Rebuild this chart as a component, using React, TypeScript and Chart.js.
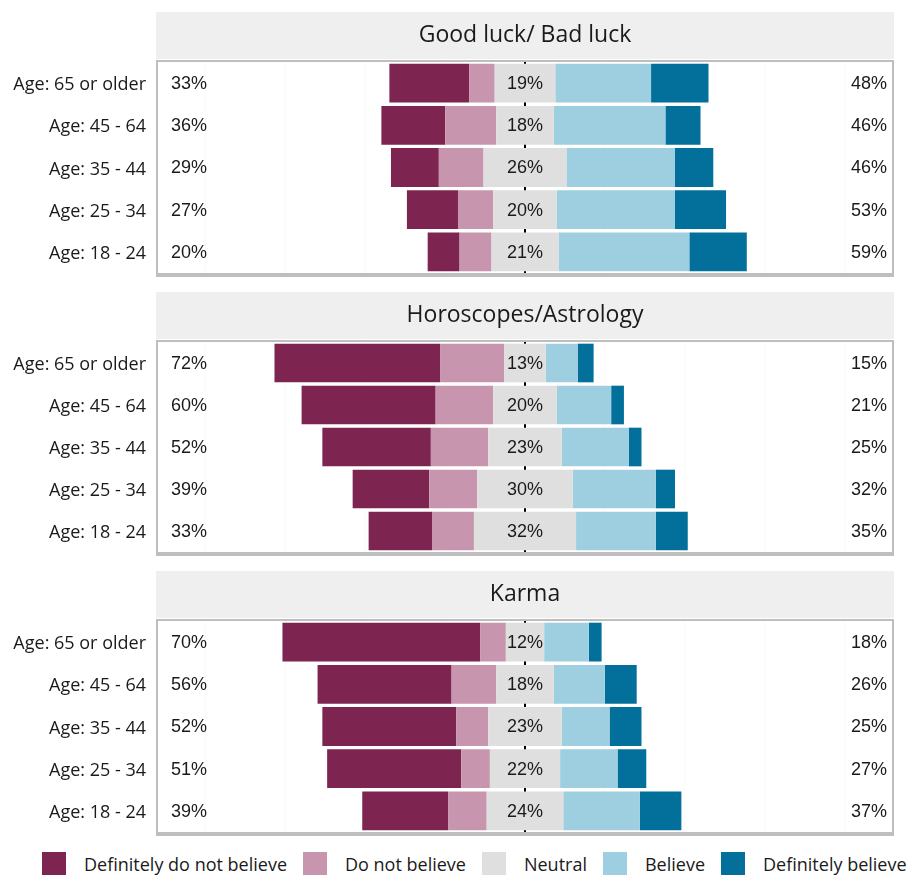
import React, { useEffect, useRef } from "react";
import { Chart, registerables } from "chart.js";

Chart.register(...registerables);

// ---------- data ----------
const ageGroups = ["Age: 65 or older", "Age: 45 - 64", "Age: 35 - 44", "Age: 25 - 34", "Age: 18 - 24"];
const responseLabels = ["Definitely do not believe", "Do not believe", "Neutral", "Believe", "Definitely believe"];
const responseColors = ["#7d2550", "#c895ae", "#dfdfdf", "#9ecfe0", "#03709b"];
const gridTicks = [-100, -75, -50, -25, 25, 50, 75, 100];

const luckDefNot = [25, 20, 15, 16, 10];
const luckNot = [8, 16, 14, 11, 10];
const luckNeutral = [19, 18, 26, 20, 21];
const luckBelieve = [30, 35, 34, 37, 41];
const luckDefBelieve = [18, 11, 12, 16, 18];

const horoDefNot = [52, 42, 34, 24, 20];
const horoNot = [20, 18, 18, 15, 13];
const horoNeutral = [13, 20, 23, 30, 32];
const horoBelieve = [10, 17, 21, 26, 25];
const horoDefBelieve = [5, 4, 4, 6, 10];

const karmaDefNot = [62, 42, 42, 42, 27];
const karmaNot = [8, 14, 10, 9, 12];
const karmaNeutral = [12, 18, 23, 22, 24];
const karmaBelieve = [14, 16, 15, 18, 24];
const karmaDefBelieve = [4, 10, 10, 9, 13];

const TEXT = "#1a1a1a";
const BORDER = "#bebebe";

type PanelProps = {
  title: string;
  defNot: number[];
  not: number[];
  neutral: number[];
  believe: number[];
  defBelieve: number[];
  height: number;
};

function makeDecor(title: string, leftVals: number[], midVals: number[], rightVals: number[]) {
  return {
    id: "panelDecor",
    beforeDraw(chart: any) {
      const { ctx, chartArea: a } = chart;
      ctx.save();
      ctx.fillStyle = "#efefef";
      ctx.fillRect(a.left - 2, a.top - 50, a.right - a.left + 4, 47);
      ctx.fillStyle = TEXT;
      ctx.font = '23px "Open Sans"';
      ctx.textAlign = "center";
      ctx.textBaseline = "middle";
      ctx.fillText(title, (a.left + a.right) / 2, a.top - 27);
      ctx.restore();
    },
    beforeDatasetsDraw(chart: any) {
      const { ctx, chartArea: a } = chart;
      const x0 = chart.scales.x.getPixelForValue(0);
      ctx.save();
      ctx.strokeStyle = "#000000";
      ctx.lineWidth = 2;
      ctx.beginPath();
      ctx.moveTo(x0, a.top);
      ctx.lineTo(x0, a.bottom);
      ctx.stroke();
      ctx.restore();
    },
    afterDatasetsDraw(chart: any) {
      const { ctx, chartArea: a } = chart;
      const ys = chart.scales.y;
      const x0 = chart.scales.x.getPixelForValue(0);
      ctx.save();
      ctx.fillStyle = TEXT;
      ctx.font = '18px "Liberation Sans"';
      ctx.textBaseline = "middle";
      leftVals.forEach((v, i) => {
        const y = ys.getPixelForValue(i) + 1;
        ctx.textAlign = "left";
        ctx.fillText(v + "%", a.left + 13, y);
        ctx.textAlign = "center";
        ctx.fillText(midVals[i] + "%", x0, y);
        ctx.textAlign = "right";
        ctx.fillText(rightVals[i] + "%", a.right - 5, y);
      });
      // panel border
      ctx.fillStyle = BORDER;
      const w = a.right - a.left;
      const h = a.bottom - a.top;
      ctx.fillRect(a.left - 2, a.top - 2, w + 4, 2);
      ctx.fillRect(a.left - 2, a.top - 2, 2, h + 6);
      ctx.fillRect(a.right, a.top - 2, 2, h + 6);
      ctx.fillRect(a.left - 2, a.bottom, w + 4, 4);
      ctx.restore();
    },
  };
}

function Panel({ title, defNot, not, neutral, believe, defBelieve, height }: PanelProps) {
  const ref = useRef<HTMLCanvasElement>(null);
  useEffect(() => {
    const leftVals = defNot.map((v, i) => v + not[i]);
    const rightVals = believe.map((v, i) => v + defBelieve[i]);
    const chart = new Chart(ref.current as HTMLCanvasElement, {
      type: "bar",
      data: {
        labels: ageGroups,
        datasets: [
          { label: responseLabels[2], data: neutral.map((v) => -v / 2), backgroundColor: responseColors[2] },
          { label: responseLabels[1], data: not.map((v) => -v), backgroundColor: responseColors[1] },
          { label: responseLabels[0], data: defNot.map((v) => -v), backgroundColor: responseColors[0] },
          { label: responseLabels[2], data: neutral.map((v) => v / 2), backgroundColor: responseColors[2] },
          { label: responseLabels[3], data: believe, backgroundColor: responseColors[3] },
          { label: responseLabels[4], data: defBelieve, backgroundColor: responseColors[4] },
        ],
      },
      options: {
        indexAxis: "y",
        responsive: false,
        animation: false,
        layout: { padding: { top: 62, bottom: 7, left: 0, right: 17 } },
        datasets: { bar: { categoryPercentage: 1, barPercentage: 0.92, borderWidth: 0 } } as any,
        scales: {
          x: {
            stacked: true,
            min: -115,
            max: 115,
            afterBuildTicks: (s: any) => {
              s.ticks = gridTicks.map((v) => ({ value: v }));
            },
            afterFit: (s: any) => {
              s.height = 0;
              s.paddingLeft = 0;
              s.paddingRight = 0;
            },
            ticks: { display: false },
            grid: { color: "#fafafa", drawTicks: false },
            border: { display: false },
          },
          y: {
            stacked: true,
            afterFit: (s: any) => {
              s.width = 158;
              s.paddingTop = 0;
              s.paddingBottom = 0;
            },
            ticks: { color: TEXT, font: { family: "Open Sans", size: 18 }, padding: 12, labelOffset: 2 },
            grid: { display: false, drawTicks: false },
            border: { display: false },
          },
        },
        plugins: { legend: { display: false }, tooltip: { enabled: false }, title: { display: false } },
      } as any,
      plugins: [makeDecor(title, leftVals, neutral, rightVals)],
    });
    return () => chart.destroy();
  }, []);
  return <canvas ref={ref} width={909} height={height} style={{ display: "block" }} />;
}

function Legend() {
  return (
    <div
      style={{
        display: "flex",
        alignItems: "center",
        paddingLeft: 42,
        marginTop: 13,
        height: 24,
        fontFamily: '"Open Sans"',
        fontSize: 18,
        color: TEXT,
        whiteSpace: "nowrap",
      }}
    >
      {responseLabels.map((l, i) => (
        <div key={l} style={{ display: "flex", alignItems: "center", marginRight: 16 }}>
          <div style={{ width: 24, height: 24, background: responseColors[i], marginRight: 18 }} />
          <span>{l}</span>
        </div>
      ))}
    </div>
  );
}

export default function App() {
  useEffect(() => {
    document.body.style.margin = "0";
  }, []);
  return (
    <div style={{ width: 909, background: "#ffffff" }}>
      <Panel title="Good luck/ Bad luck" defNot={luckDefNot} not={luckNot} neutral={luckNeutral} believe={luckBelieve} defBelieve={luckDefBelieve} height={280} />
      <Panel title="Horoscopes/Astrology" defNot={horoDefNot} not={horoNot} neutral={horoNeutral} believe={horoBelieve} defBelieve={horoDefBelieve} height={279} />
      <Panel title="Karma" defNot={karmaDefNot} not={karmaNot} neutral={karmaNeutral} believe={karmaBelieve} defBelieve={karmaDefBelieve} height={280} />
      <Legend />
    </div>
  );
}
